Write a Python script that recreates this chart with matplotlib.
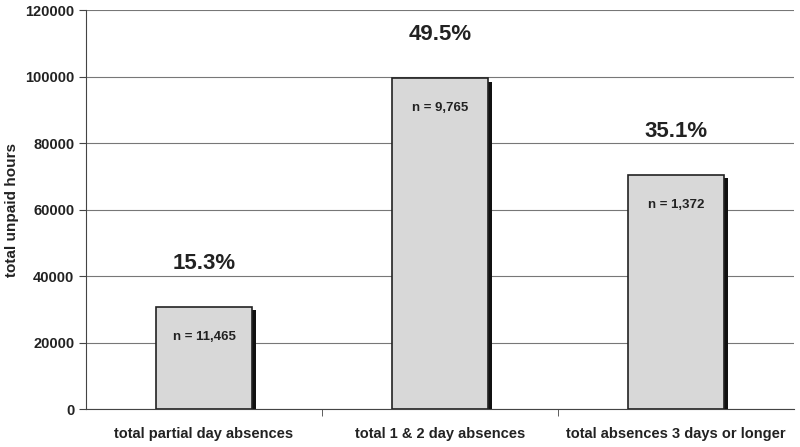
import numpy as np
from matplotlib import pyplot as plt
import matplotlib.patheffects as pe

categories = ['total partial day absences', 'total 1 & 2 day absences', 'total absences 3 days or longer']
hours = [30800, 99500, 70500]
pct_labels = ['15.3%', '49.5%', '35.1%']
n_labels = ['n = 11,465', 'n = 9,765', 'n = 1,372']

plt.rcParams['font.family'] = ['Liberation Sans', 'DejaVu Sans']

fig = plt.figure(figsize=(8, 4.47), dpi=100)
ax = fig.add_axes([0.1075, 0.085, 0.885, 0.8926])

x = np.arange(len(categories))
bars = ax.bar(x, hours, width=0.41, color='#d8d8d8', edgecolor='#222222', linewidth=1.2, zorder=3)
for b in bars:
    b.set_path_effects([pe.SimplePatchShadow(offset=(2.5, -2.5), shadow_rgbFace='#111111', alpha=1.0),
                        pe.Normal()])

for i, v in enumerate(hours):
    ax.text(x[i], v + 13000, pct_labels[i], ha='center', va='center', fontsize=16, fontweight='bold', color='#222222')
    ax.text(x[i], v - 9000, n_labels[i], ha='center', va='center', fontsize=9.5, fontweight='bold', color='#222222')

ax.set_xlim(-0.5, 2.5)
ax.set_ylim(0, 120000)
ax.set_yticks(np.arange(0, 120001, 20000))
ax.yaxis.grid(True, color='#777777', linewidth=0.8, zorder=0)
ax.set_axisbelow(True)
ax.set_xticks(x)
ax.set_xticklabels(categories, fontsize=10.5, fontweight='bold', color='#222222')
ax.set_xticks([0.5, 1.5], minor=True)
ax.tick_params(axis='x', which='major', length=0, pad=13)
ax.tick_params(axis='x', which='minor', length=5, color='#444444')
ax.tick_params(axis='y', length=5, color='#444444', labelsize=10.5, labelcolor='#222222')
for lab in ax.get_yticklabels():
    lab.set_fontweight('bold')
ax.set_ylabel('total unpaid hours', fontsize=11, fontweight='bold', color='#222222', labelpad=4)

ax.spines['top'].set_visible(False)
ax.spines['right'].set_visible(False)
ax.spines['left'].set_color('#444444')
ax.spines['bottom'].set_color('#444444')

plt.savefig('out.png', dpi=100)
